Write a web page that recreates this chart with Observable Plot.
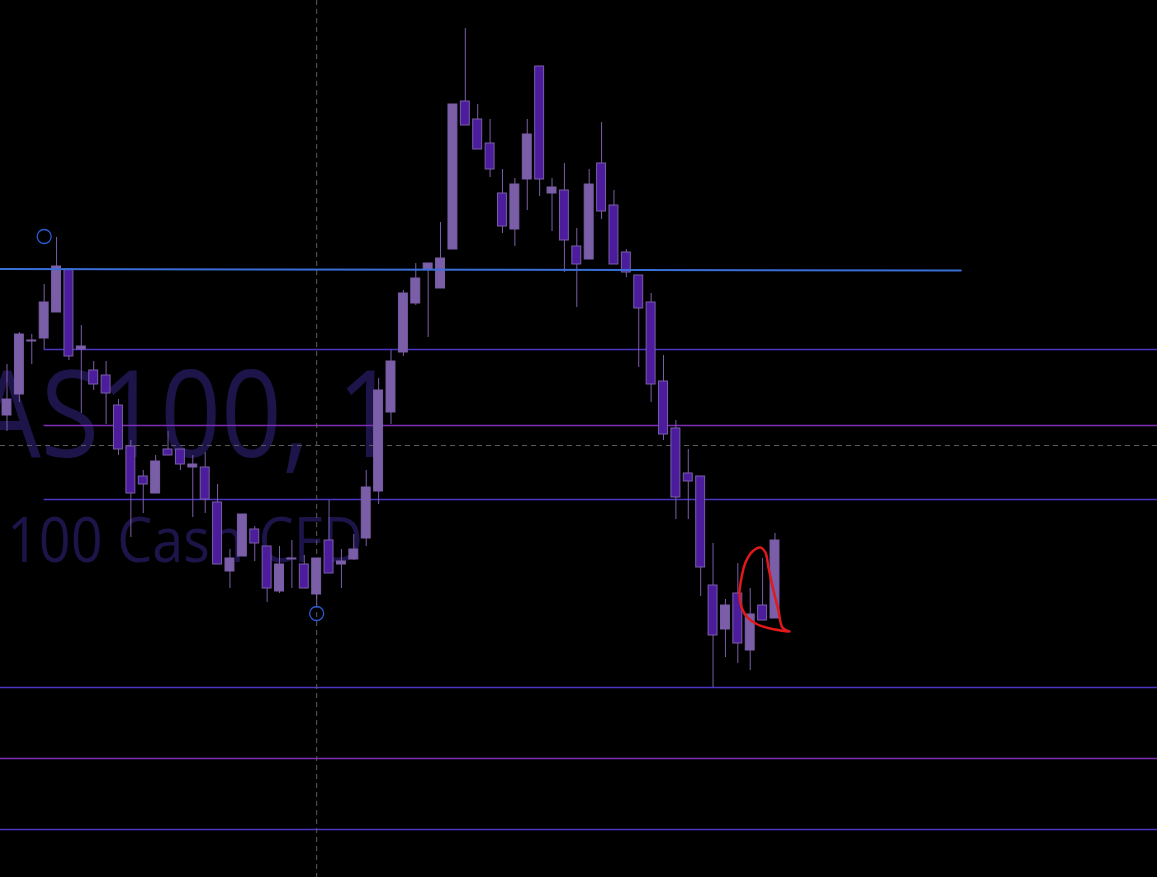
<!DOCTYPE html>
<html>
<head>
<meta charset="utf-8">
<script src="https://cdn.jsdelivr.net/npm/d3@7"></script>
<script src="https://cdn.jsdelivr.net/npm/@observablehq/plot@0.6"></script>
<style>
  html, body { margin: 0; padding: 0; background: #000; overflow: hidden; }
  #chart svg { display: block; }
</style>
</head>
<body>
<div id="chart"></div>
<script>
// ---- Candle data (NAS100) ----
const opens  = [14585,14606,14659,14662,14688,14731,14651,14630,14625,14595,14554,14524,14507,14551,14551,14533,14533,14498,14429,14444,14471,14454,14409,14441,14436,14406,14460,14436,14441,14462,14509,14588,14648,14697,14731,14712,14751,14899,14881,14857,14807,14771,14821,14934,14807,14810,14754,14741,14837,14795,14748,14725,14698,14619,14572,14527,14524,14415,14371,14407,14350,14395,14382];
const highs  = [14636,14668,14666,14716,14763,14731,14675,14639,14639,14601,14560,14530,14545,14569,14551,14545,14548,14516,14451,14486,14474,14454,14454,14460,14445,14442,14500,14451,14466,14530,14622,14650,14710,14737,14737,14778,14896,14972,14896,14881,14831,14822,14881,14934,14822,14837,14772,14831,14878,14810,14751,14725,14707,14645,14580,14551,14524,14457,14401,14437,14412,14442,14467];
const lows   = [14569,14598,14636,14651,14688,14640,14587,14610,14576,14545,14463,14487,14507,14545,14530,14483,14487,14436,14412,14444,14439,14398,14407,14412,14412,14395,14427,14412,14440,14454,14496,14576,14644,14695,14663,14712,14751,14875,14851,14823,14767,14754,14790,14804,14769,14728,14693,14741,14781,14736,14723,14633,14598,14560,14481,14481,14404,14313,14343,14337,14330,14380,14382];
const closes = [14601,14666,14660,14698,14734,14644,14654,14616,14607,14551,14507,14516,14539,14545,14536,14536,14501,14436,14442,14486,14457,14412,14436,14442,14412,14442,14427,14439,14451,14513,14610,14639,14707,14722,14737,14742,14896,14875,14851,14831,14774,14816,14866,14821,14813,14760,14736,14816,14789,14736,14728,14692,14616,14566,14503,14519,14433,14365,14395,14357,14386,14380,14460];

// ---- Horizontal levels ----
const levelPrices = [14651, 14575, 14501, 14313, 14242, 14171];
const levelKinds  = ["level", "pivot", "level", "level", "pivot", "level"];
const levelStarts = [3, 3, 3, null, null, null]; // bar index where the level begins (null = whole chart)

// ---- Trend line (blue) ----
const trendBars   = [-0.525, 77];
const trendPrices = [14731.5, 14730];

// ---- Crosshair ----
const crossBar = 25;
const crossPrice = 14555;

// ---- Circle markers ----
const markerBars   = [3, 25];
const markerPrices = [14764, 14387];

// ---- Hand-drawn red annotation ----
const noteBars   = [63.01, 61.64, 60.59, 59.78, 59.30, 59.13, 59.30, 59.62, 60.18, 60.83, 61.23, 61.47, 61.88, 62.28, 62.60, 63.17];
const notePrices = [14369, 14372, 14376, 14383, 14393, 14407, 14423, 14438, 14449, 14453, 14448, 14433, 14410, 14390, 14373, 14369];

// ---- Watermark ----
const watermarkTitle = "NAS100, 1";
const watermarkSub = "Nasdaq 100 Cash CFD";

// ---- Build tables ----
const candles = opens.map((o, i) => ({i, open: o, high: highs[i], low: lows[i], close: closes[i]}));
const xMin = -0.525, xMax = 92.88;
const levels = levelPrices.map((p, k) => ({price: p, kind: levelKinds[k], start: levelStarts[k] ?? xMin}));
const trend = trendBars.map((b, k) => ({bar: b, price: trendPrices[k]}));
const markers = markerBars.map((b, k) => ({bar: b, price: markerPrices[k]}));
const note = noteBars.map((b, k) => ({bar: b, price: notePrices[k]}));

const UP = "#7b5ea8", DOWN = "#4b1c9b", EDGE = "#7b5ea8";
const levelColor = k => k === "pivot" ? "#7e2db8" : "#4b36c4";

const chart = Plot.plot({
  width: 1157,
  height: 877,
  margin: 0,
  x: {domain: [xMin, xMax], axis: null},
  y: {domain: [14123, 15000], axis: null},
  style: {background: "#000", overflow: "hidden"},
  marks: [
    Plot.ruleY(levels, {
      y: "price", x1: "start", x2: xMax,
      stroke: d => levelColor(d.kind), strokeWidth: 1.6
    }),
    Plot.ruleX([crossBar], {stroke: "#5c5c5c", strokeDasharray: "5,4", strokeWidth: 1}),
    Plot.ruleY([crossPrice], {stroke: "#5c5c5c", strokeDasharray: "5,4", strokeWidth: 1}),
    Plot.ruleX(candles, {x: "i", y1: "low", y2: "high", stroke: EDGE, strokeWidth: 1}),
    Plot.rect(candles, {
      x1: d => d.i - 0.36, x2: d => d.i + 0.36,
      y1: "open", y2: "close",
      fill: d => d.close >= d.open ? UP : DOWN,
      stroke: EDGE, strokeWidth: 1
    }),
    Plot.line(trend, {x: "bar", y: "price", stroke: "#3a6fd8", strokeWidth: 2}),
    Plot.dot(markers, {x: "bar", y: "price", r: 7, stroke: "#2b5bd6", strokeWidth: 1.3, fill: "none"}),
    Plot.line(note, {x: "bar", y: "price", curve: "catmull-rom", stroke: "#e0191b", strokeWidth: 2.5})
  ]
});

// watermark behind everything
const svg = d3.select(chart);
const wm = svg.insert("g", ":first-child").attr("fill", "#1d1549").attr("font-family", "'Open Sans', sans-serif");
wm.append("text")
  .attr("transform", "translate(398,457) scale(0.88,1)")
  .attr("text-anchor", "end")
  .attr("font-size", 121)
  .text(watermarkTitle);
wm.append("text")
  .attr("transform", "translate(363,562) scale(0.9,1)")
  .attr("text-anchor", "end")
  .attr("font-size", 62)
  .text(watermarkSub);

document.getElementById("chart").appendChild(chart);
</script>
</body>
</html>
